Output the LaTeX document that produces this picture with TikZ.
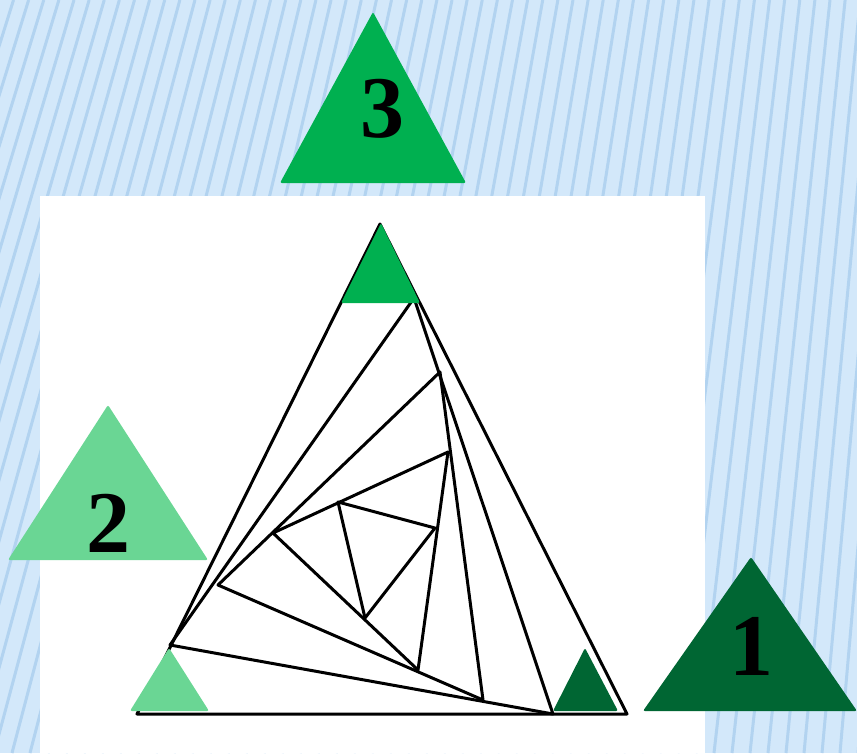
\documentclass[tikz,border=0pt]{standalone}
\usepackage{fontspec}
\setmainfont{Liberation Serif}
\usetikzlibrary{positioning, calc}

\definecolor{skyback}{HTML}{D3E8FA}
\definecolor{skystripe}{HTML}{B2D3F0}
\definecolor{greenmid}{HTML}{00B050}
\definecolor{greenlight}{HTML}{6AD694}
\definecolor{greendark}{HTML}{006633}

\begin{document}
\begin{tikzpicture}[
    x=1pt, y=-1pt,
    stripe/.style={skystripe, line width=3pt},
    whirl/.style={black, line width=3pt, line join=round},
    tri/.style={rounded corners=2pt},
    digit/.style={inner sep=0pt, font=\fontsize{88}{88}\selectfont\bfseries}
]
\useasboundingbox (0,0) rectangle (857,753);

% Sfondo a righe
\fill[skyback] (0,0) rectangle (857,753);
\foreach \x in {-240,-222,...,900}
    \draw[stripe] (\x,753) -- ({\x+200-0.16*\x},0);
\fill[white] (40,196) rectangle (705,753);

% Vertici dei triangoli
\coordinate (r0) at (380,224);
\coordinate (p0) at (137,714);
\coordinate (q0) at (627,714);
\coordinate (p1) at (170,645);
\coordinate (q1) at (553,714);
\coordinate (r1) at (414,298);
\coordinate (p2) at (218,585);
\coordinate (q2) at (483,700);
\coordinate (r2) at (440,372);
\coordinate (p3) at (273,533);
\coordinate (q3) at (418,670);
\coordinate (r3) at (448,452);
\coordinate (p4) at (338,502);
\coordinate (q4) at (365,618);
\coordinate (r4) at (435,528);

% Triangoli annidati
\foreach \k in {0,...,4}
    \draw[whirl] (p\k) -- (q\k) -- (r\k) -- cycle;

% Triangolini agli angoli
\fill[greenmid, tri] (381,223) -- (420,303) -- (341,303) -- cycle;
\fill[greenlight, tri] (169,648) -- (209,711) -- (130,711) -- cycle;
\fill[greendark, tri] (585,648) -- (618,711) -- (553,711) -- cycle;

% Triangoli numerati
\fill[greenmid, tri] (373,12) -- (466,183) -- (280,183) -- cycle;
\fill[greenlight, tri] (108,405) -- (208,560) -- (8,560) -- cycle;
\fill[greendark, tri] (751,557) -- (857,711) -- (643,711) -- cycle;

\node[digit] (n3) at (382,109) {3};
\node[digit] (n2) at (108,523) {2};
\node[digit] (n1) at (751,646) {1};

\end{tikzpicture}
\end{document}
